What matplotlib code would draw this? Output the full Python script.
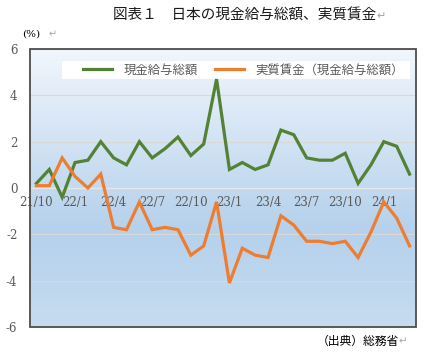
import numpy as np
import matplotlib
matplotlib.use("Agg")
import matplotlib.pyplot as plt
from matplotlib.colors import LinearSegmentedColormap
from matplotlib.patches import Rectangle

plt.rcParams['font.family'] = ['Noto Sans CJK JP', 'DejaVu Sans']
plt.rcParams['axes.unicode_minus'] = False

months = ["21/10", "21/11", "21/12",
          "22/1", "22/2", "22/3", "22/4", "22/5", "22/6", "22/7", "22/8", "22/9",
          "22/10", "22/11", "22/12",
          "23/1", "23/2", "23/3", "23/4", "23/5", "23/6", "23/7", "23/8", "23/9",
          "23/10", "23/11", "23/12",
          "24/1", "24/2", "24/3"]
nominal = [0.2, 0.8, -0.4, 1.1, 1.2, 2.0, 1.3, 1.0, 2.0, 1.3, 1.7, 2.2, 1.4, 1.9, 4.7,
           0.8, 1.1, 0.8, 1.0, 2.5, 2.3, 1.3, 1.2, 1.2, 1.5, 0.2, 1.0, 2.0, 1.8, 0.6]
real = [0.1, 0.1, 1.3, 0.5, 0.0, 0.6, -1.7, -1.8, -0.6, -1.8, -1.7, -1.8, -2.9, -2.5, -0.6,
        -4.1, -2.6, -2.9, -3.0, -1.2, -1.6, -2.3, -2.3, -2.4, -2.3, -3.0, -1.9, -0.6, -1.3, -2.5]
label_every = 3

gray = "#595959"
W, H = 428, 359
fig = plt.figure(figsize=(W / 100, H / 100), dpi=100)
ax = fig.add_axes([30/W, 1 - 327/H, 386/W, 278/H])

# gradient background
grad = LinearSegmentedColormap.from_list("bg", [(0, "#c6dcf0"), (0.35, "#b5d1ec"), (1, "#f1f6fc")])
ax.imshow(np.linspace(0, 1, 256).reshape(-1, 1), cmap=grad, origin="lower", aspect="auto",
          extent=[0, 1, 0, 1], transform=ax.transAxes, zorder=0)

x = np.arange(len(months))
ax.plot(x, nominal, color="#548235", lw=2.3, label="現金給与総額", zorder=3, solid_joinstyle="miter")
ax.plot(x, real, color="#ed7d31", lw=2.3, label="実質賃金（現金給与総額）", zorder=3, solid_joinstyle="miter")

ax.set_xlim(-0.5, len(months) - 0.5)
ax.set_ylim(-6, 6)
ax.set_yticks([-6, -4, -2, 0, 2, 4, 6])
ax.grid(axis="y", color="#d9d9d9", lw=0.8)
ax.set_axisbelow(True)

ax.set_xticks(x[::label_every])
ax.set_xticklabels(months[::label_every])
ax.spines["bottom"].set_position(("data", 0))
ax.spines["bottom"].set_color("#e6e6e6")
ax.spines["bottom"].set_linewidth(1.0)
for s in ["top", "right", "left"]:
    ax.spines[s].set_visible(False)
ax.tick_params(axis="x", length=0, pad=6, labelsize=8.5, labelcolor=gray)
ax.tick_params(axis="y", length=0, pad=9, labelsize=8.5, labelcolor=gray)
for lab in ax.get_xticklabels() + ax.get_yticklabels():
    lab.set_family("DejaVu Serif")

# frame
ax.add_patch(Rectangle((0, 0), 1, 1, transform=ax.transAxes, fill=False,
                       edgecolor="#4d4d4d", lw=1.3, clip_on=False, zorder=5))

# legend with white band behind it
ax.add_patch(Rectangle((62/W, 1 - 79/H), 348/W, 18/H, transform=fig.transFigure,
                       facecolor="white", edgecolor="none", zorder=2.5, clip_on=False))
leg = ax.legend(loc="center left", bbox_to_anchor=(83/W, 1 - 70/H), bbox_transform=fig.transFigure,
                ncol=2, fontsize=8.9, frameon=False,
                handlelength=2.35, handletextpad=0.9, columnspacing=1.45,
                borderpad=0, borderaxespad=0)
leg.set_zorder(6)
for t in leg.get_texts():
    t.set_color(gray)

title = fig.text(0.572, 0.955, "図表１　日本の現金給与総額、実質賃金", ha="center", va="center",
                 fontsize=10.5, color="#1a1a1a")
fig.text(0.052, 0.905, "(%)", ha="left", va="center", fontsize=7.5, color="black",
         family="DejaVu Serif")
fig.text(0.113, 0.905, "↵", ha="left", va="center", fontsize=7, color="#a6a6a6",
         family=["DejaVu Sans"])
ax.annotate("↵", xy=(1, 0.5), xycoords=title, va="center", ha="left", fontsize=8,
            color="#a6a6a6", family=["DejaVu Sans"])
src = fig.text(0.932, 0.05, "（出典）総務省", ha="right", va="center", fontsize=8.5, color="black")
ax.annotate("↵", xy=(1, 0.5), xycoords=src, va="center", ha="left", fontsize=7.5,
            color="#a6a6a6", family=["DejaVu Sans"])

plt.savefig("out.png", dpi=100)
